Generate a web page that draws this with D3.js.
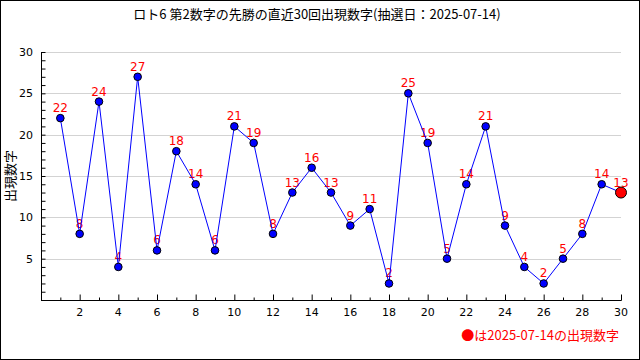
<!DOCTYPE html>
<html><head><meta charset="utf-8">
<script src="https://cdn.jsdelivr.net/npm/d3@7"></script>
<style>body{margin:0;background:#fff}svg{display:block}</style>
</head><body>
<svg id="c" width="640" height="360"></svg>
<script>
const titleText = "ロト6 第2数字の先勝の直近30回出現数字(抽選日：2025-07-14)";
const yLabel = "出現数字";
const legendText = "●は2025-07-14の出現数字";
const draws = d3.range(1, 31);
const values = [22,8,24,4,27,6,18,14,6,21,19,8,13,16,13,9,11,2,25,19,5,14,21,9,4,2,5,8,14,13];
const xTickLabels = [2,4,6,8,10,12,14,16,18,20,22,24,26,28,30];
const yTickLabels = [5,10,15,20,25,30];

const svg = d3.select("#c");
const W = 640, H = 360;
const m = {l: 41, r: 19, t: 52, b: 60};
const x = d3.scaleLinear().domain([0, 30]).range([m.l, W - m.r]);
const y = d3.scaleLinear().domain([0, 30]).range([H - m.b, m.t]);
const jp = "'Noto Sans CJK JP', sans-serif";

svg.append("rect").attr("x",0.5).attr("y",0.5).attr("width",W-1).attr("height",H-1)
  .attr("fill","#fff").attr("stroke","#000");

svg.append("text").attr("x", 317).attr("y", 19).attr("text-anchor","middle")
  .attr("font-family", jp).attr("font-size", 13).attr("fill","#000").text(titleText);

// grid
svg.append("g").selectAll("line").data(yTickLabels).join("line")
  .attr("x1", m.l).attr("x2", W - m.r)
  .attr("y1", d => Math.round(y(d)) + 0.5).attr("y2", d => Math.round(y(d)) + 0.5)
  .attr("stroke", "#d3d3d3");

// y axis
const yAxis = d3.axisRight(y).tickValues(d3.range(1, 31)).tickSize(4).tickFormat("");
const gy = svg.append("g").attr("transform", `translate(${m.l + 0.5},0)`).call(yAxis);
gy.select(".domain").remove();
gy.selectAll("line").attr("stroke","#000");
svg.append("line").attr("x1", m.l + 0.5).attr("x2", m.l + 0.5).attr("y1", y(30)).attr("y2", y(0)).attr("stroke","#000");
svg.append("g").selectAll("text").data(yTickLabels).join("text")
  .attr("x", 33).attr("y", d => y(d) + 4).attr("text-anchor","end")
  .attr("font-family","'DejaVu Sans', sans-serif").attr("font-size", 11).attr("fill","#000").text(d => d);

// x axis
const gx = svg.append("g").attr("transform", `translate(0,${Math.round(y(0)) + 0.5})`);
gx.call(d3.axisTop(x).tickValues(d3.range(1, 31).filter(d => d % 2 === 1)).tickSize(3).tickFormat(""));
gx.select(".domain").remove();
const gx2 = svg.append("g").attr("transform", `translate(0,${Math.round(y(0)) + 0.5})`);
gx2.call(d3.axisTop(x).tickValues(xTickLabels).tickSize(6).tickFormat(""));
gx2.select(".domain").remove();
svg.selectAll(".tick line").attr("stroke","#000");
svg.append("line").attr("x1", m.l).attr("x2", x(30) + 0.5).attr("y1", Math.round(y(0)) + 0.5).attr("y2", Math.round(y(0)) + 0.5).attr("stroke","#000");
svg.append("g").selectAll("text").data(xTickLabels).join("text")
  .attr("x", d => x(d)).attr("y", 316).attr("text-anchor","middle")
  .attr("font-family","'DejaVu Sans', sans-serif").attr("font-size", 11).attr("fill","#000").text(d => d);

// y label
svg.append("text").attr("transform", `translate(15,176) rotate(-90)`).attr("text-anchor","middle")
  .attr("font-family", jp).attr("font-size", 13).attr("fill","#000").text(yLabel);

const data = draws.map((d, i) => ({d, v: values[i]}));

// value labels
svg.append("g").selectAll("text").data(data).join("text")
  .attr("x", p => x(p.d)).attr("y", p => y(p.v) - 6).attr("text-anchor","middle")
  .attr("font-family","'DejaVu Sans', sans-serif").attr("font-size", 12).attr("fill","#ff0000").text(p => p.v);

// line
svg.append("path").datum(data)
  .attr("d", d3.line().x(p => x(p.d)).y(p => y(p.v)))
  .attr("fill","none").attr("stroke","#0000ff").attr("stroke-width",1);

// points
svg.append("g").selectAll("circle").data(data.slice(0, -1)).join("circle")
  .attr("cx", p => x(p.d)).attr("cy", p => y(p.v)).attr("r", 3.8)
  .attr("fill","#0000ff").attr("stroke","#000").attr("stroke-width",1);
const last = data[data.length - 1];
svg.append("circle").attr("cx", x(last.d)).attr("cy", y(last.v)).attr("r", 5.5)
  .attr("fill","#ff0000").attr("stroke","#000").attr("stroke-width",1);

// legend
svg.append("text").attr("x", 619).attr("y", 340).attr("text-anchor","end")
  .attr("font-family", jp).attr("font-size", 13).attr("fill","#ff0000").text(legendText);
</script>
</body></html>
